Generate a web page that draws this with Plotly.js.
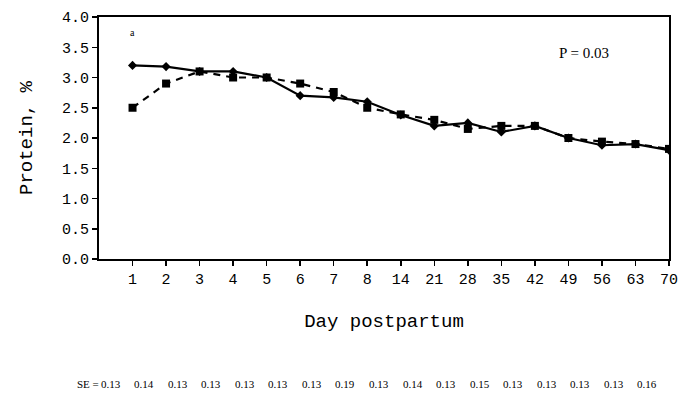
<!DOCTYPE html>
<html>
<head>
<meta charset="utf-8">
<script src="https://cdn.plot.ly/plotly-3.0.1.min.js"></script>
<style>html,body{margin:0;padding:0;background:#fff;}#chart{width:680px;height:414px;}</style>
</head>
<body>
<div id="chart"></div>
<script>
const days = ["1","2","3","4","5","6","7","8","14","21","28","35","42","49","56","63","70"];
const solidSeries = [3.2,3.18,3.1,3.1,3.0,2.7,2.67,2.6,2.38,2.2,2.25,2.1,2.2,2.0,1.88,1.9,1.8];
const dashedSeries = [2.5,2.9,3.1,3.0,3.0,2.9,2.76,2.5,2.39,2.3,2.15,2.2,2.2,2.0,1.94,1.9,1.82];
const seValues = ["0.13","0.14","0.13","0.13","0.13","0.13","0.13","0.19","0.13","0.14","0.13","0.15","0.13","0.13","0.13","0.13","0.16"];
const yTicks = [0,0.5,1,1.5,2,2.5,3,3.5,4];

const idx = days.map((d,i)=>i);
const mono = "Liberation Mono, Courier New, monospace";
const serif = "Liberation Serif, Times New Roman, serif";

const traces = [
  {x: idx, y: dashedSeries, type: "scatter", mode: "lines+markers",
   line: {color: "#000", width: 2.2, dash: "7px,6px"},
   marker: {symbol: "square", size: 8, color: "#000"}, name: "B"},
  {x: idx, y: solidSeries, type: "scatter", mode: "lines+markers",
   line: {color: "#000", width: 2.2},
   marker: {symbol: "diamond", size: 7, color: "#000"}, name: "A"}
];

const annotations = [
  {xref: "paper", yref: "paper", x: 0.05, y: 0.935, text: "a", showarrow: false,
   font: {family: serif, size: 10, color: "#000"}, xanchor: "left", yanchor: "middle"},
  {xref: "paper", yref: "paper", x: 0.804, y: 0.853, text: "P = 0.03", showarrow: false,
   font: {family: serif, size: 15, color: "#000"}, xanchor: "left", yanchor: "middle"},
  {xref: "x", yref: "paper", x: -0.6 - 0.35, y: -0.515, text: "SE =", showarrow: false,
   font: {family: serif, size: 11, color: "#000"}, xanchor: "right", yanchor: "middle"}
];
seValues.forEach((v,i)=>{
  annotations.push({xref: "x", yref: "paper", x: i - 0.65, y: -0.515, text: v, showarrow: false,
    font: {family: serif, size: 11, color: "#000"}, xanchor: "center", yanchor: "middle"});
});

const layout = {
  width: 680, height: 414,
  margin: {l: 99, r: 11, t: 17, b: 155},
  paper_bgcolor: "#fff", plot_bgcolor: "#fff",
  showlegend: false,
  xaxis: {
    range: [-1, 16], tickmode: "array", tickvals: idx, ticktext: days,
    showgrid: false, zeroline: false, showline: true, linecolor: "#000", linewidth: 2,
    mirror: true, ticks: "outside", ticklen: 5, tickwidth: 1.5, tickcolor: "#000",
    tickfont: {family: mono, size: 15, color: "#000"},
    title: {text: "Day postpartum", font: {family: mono, size: 19, color: "#000"}, standoff: 26}
  },
  yaxis: {
    range: [0, 4], tickmode: "array", tickvals: yTicks, ticktext: yTicks.map(v=>v.toFixed(1)),
    showgrid: false, zeroline: false, showline: true, linecolor: "#000", linewidth: 2,
    mirror: true, ticks: "outside", ticklen: 5, tickwidth: 1.5, tickcolor: "#000",
    tickfont: {family: mono, size: 15, color: "#000"},
    title: {text: "Protein, %", font: {family: mono, size: 19, color: "#000"}, standoff: 24}
  },
  annotations: annotations
};

Plotly.newPlot("chart", traces, layout, {staticPlot: true, displayModeBar: false});
</script>
</body>
</html>
